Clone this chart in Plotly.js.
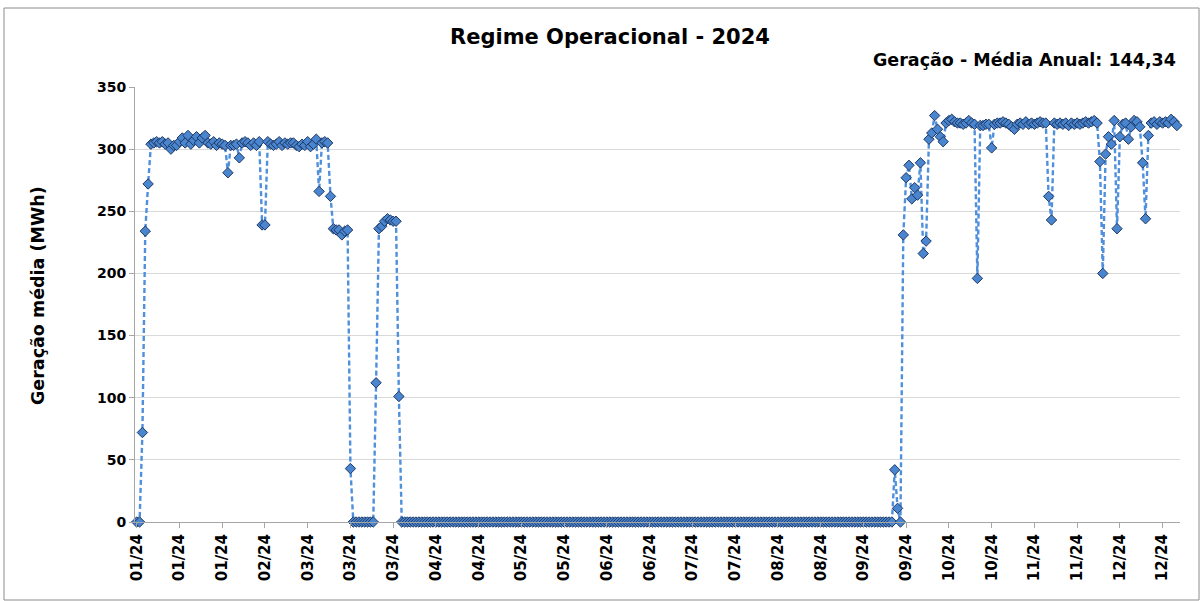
<!DOCTYPE html>
<html>
<head>
<meta charset="utf-8">
<script src="https://cdn.plot.ly/plotly-3.0.1.min.js"></script>
<style>html,body{margin:0;padding:0;background:#fff;}#chart{width:1202px;height:601px;}</style>
</head>
<body>
<div id="chart"></div>
<script>
// Daily generation (MWh average), 2024, starting on 2024-01-01
const startDate = '2024-01-01';
const values = [
  0, 0, 72, 234, 272, 304, 305, 306, 305, 306,
  304, 305, 300, 303, 303, 306, 309, 305, 311, 304,
  307, 310, 305, 309, 311, 305, 304, 306, 303, 305,
  304, 303, 281, 303, 303, 304, 293, 305, 306, 305,
  303, 305, 303, 306, 239, 239, 306, 304, 303, 304,
  306, 303, 305, 304, 305, 305, 303, 302, 304, 303,
  306, 302, 304, 308, 266, 305, 306, 305, 262, 236,
  235, 235, 231, 234, 235, 43, 0, 0, 0, 0,
  0, 0, 0, 0, 112, 236, 238, 242, 244, 243,
  242, 242, 101, 0, 0, 0, 0, 0, 0, 0,
  0, 0, 0, 0, 0, 0, 0, 0, 0, 0,
  0, 0, 0, 0, 0, 0, 0, 0, 0, 0,
  0, 0, 0, 0, 0, 0, 0, 0, 0, 0,
  0, 0, 0, 0, 0, 0, 0, 0, 0, 0,
  0, 0, 0, 0, 0, 0, 0, 0, 0, 0,
  0, 0, 0, 0, 0, 0, 0, 0, 0, 0,
  0, 0, 0, 0, 0, 0, 0, 0, 0, 0,
  0, 0, 0, 0, 0, 0, 0, 0, 0, 0,
  0, 0, 0, 0, 0, 0, 0, 0, 0, 0,
  0, 0, 0, 0, 0, 0, 0, 0, 0, 0,
  0, 0, 0, 0, 0, 0, 0, 0, 0, 0,
  0, 0, 0, 0, 0, 0, 0, 0, 0, 0,
  0, 0, 0, 0, 0, 0, 0, 0, 0, 0,
  0, 0, 0, 0, 0, 0, 0, 0, 0, 0,
  0, 0, 0, 0, 0, 0, 0, 0, 0, 0,
  0, 0, 0, 0, 0, 0, 0, 0, 0, 0,
  0, 0, 0, 0, 0, 0, 42, 11, 0, 231,
  277, 287, 260, 269, 263, 289, 216, 226, 308, 313,
  327, 316, 310, 306, 321, 323, 324, 322, 321, 321,
  320, 321, 323, 321, 320, 196, 319, 319, 320, 320,
  301, 320, 321, 321, 322, 321, 320, 318, 316, 320,
  321, 320, 322, 320, 321, 320, 321, 322, 321, 321,
  262, 243, 321, 320, 321, 320, 321, 319, 321, 320,
  321, 320, 321, 322, 321, 322, 323, 321, 290, 200,
  296, 310, 304, 323, 236, 310, 320, 321, 308, 318,
  323, 322, 318, 289, 244, 311, 321, 322, 320, 322,
  321, 322, 321, 324, 322, 319
];
const chartTitle = 'Regime Operacional - 2024';
const subTitle = 'Geração - Média Anual: 144,34';
const yTitle = 'Geração média (MWh)';
const tickDays = 15;

const DAY = 86400000;
const t0 = Date.parse(startDate + 'T00:00:00Z');
const dates = values.map((v, i) => new Date(t0 + i * DAY).toISOString().slice(0, 10));

const FONT = 'DejaVu Sans, Verdana, sans-serif';

const trace = {
  type: 'scatter',
  mode: 'lines+markers',
  x: dates,
  y: values,
  cliponaxis: false,
  line: {color: '#4F8FDB', width: 2.4, dash: '5px,3px'},
  marker: {symbol: 'diamond', size: 8, color: '#4A86CF', line: {color: '#1F3864', width: 1}},
  hoverinfo: 'x+y'
};

const layout = {
  width: 1202,
  height: 601,
  margin: {l: 135, r: 22, t: 87, b: 79, pad: 0},
  paper_bgcolor: '#ffffff',
  plot_bgcolor: '#ffffff',
  showlegend: false,
  title: {
    text: chartTitle,
    xref: 'container', yref: 'container',
    x: 610 / 1202, y: 1 - 37 / 601,
    xanchor: 'center', yanchor: 'middle',
    font: {family: FONT, size: 21, weight: 'bold', color: '#000'}
  },
  xaxis: {
    type: 'date',
    range: [new Date(t0 - 0.6 * DAY).toISOString(), new Date(t0 + 366.1 * DAY).toISOString()],
    tick0: startDate,
    dtick: tickDays * DAY,
    tickformat: '%m/%y',
    tickangle: -90,
    ticks: 'outside',
    ticklen: 5,
    tickcolor: '#a6a6a6',
    showline: true,
    linecolor: '#a6a6a6',
    linewidth: 1,
    showgrid: false,
    zeroline: false,
    tickfont: {family: FONT, size: 15, weight: 'bold', color: '#000'}
  },
  yaxis: {
    range: [0, 350],
    dtick: 50,
    ticks: 'outside',
    ticklen: 5,
    tickcolor: '#a6a6a6',
    showline: true,
    linecolor: '#a6a6a6',
    linewidth: 1,
    showgrid: true,
    gridcolor: '#d9d9d9',
    gridwidth: 1,
    zeroline: false,
    tickfont: {family: FONT, size: 14, weight: 'bold', color: '#000'}
  },
  annotations: [
    {
      text: subTitle, xref: 'paper', yref: 'paper',
      x: (1178 - 135) / 1045, y: (522 - 60) / 435,
      xanchor: 'right', yanchor: 'middle', showarrow: false,
      font: {family: FONT, size: 17.5, weight: 'bold', color: '#000'}
    },
    {
      text: yTitle, xref: 'paper', yref: 'paper',
      x: (38 - 135) / 1045, y: (522 - 296) / 435,
      xanchor: 'center', yanchor: 'middle', textangle: -90, showarrow: false,
      font: {family: FONT, size: 17.5, weight: 'bold', color: '#000'}
    }
  ],
  shapes: [
    {
      type: 'rect', xref: 'paper', yref: 'paper', layer: 'below',
      x0: (4 - 135) / 1045, x1: (1199 - 135) / 1045,
      y0: (522 - 600) / 435, y1: (522 - 8) / 435,
      line: {color: '#8c8c8c', width: 1}, fillcolor: 'rgba(0,0,0,0)'
    }
  ]
};

Plotly.newPlot('chart', [trace], layout, {displayModeBar: false, responsive: false});
</script>
</body>
</html>
